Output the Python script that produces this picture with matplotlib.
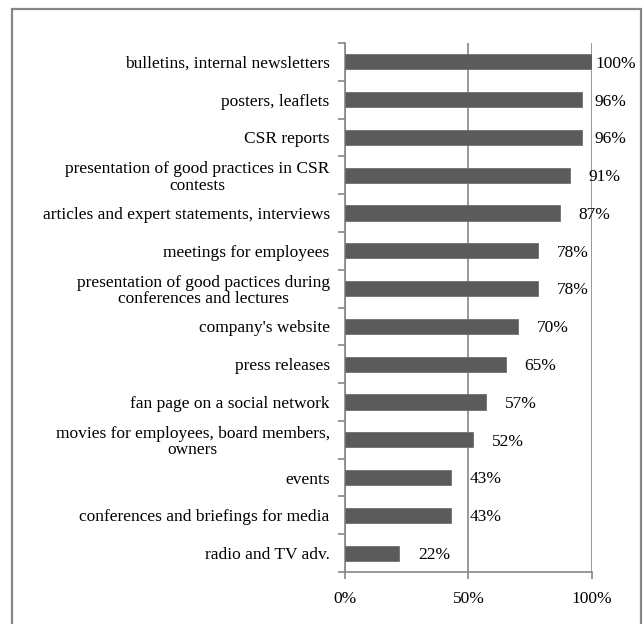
import matplotlib.pyplot as plt
import matplotlib.patches as mpatches
import numpy as np

plt.rcParams['font.family'] = ['Liberation Serif', 'DejaVu Serif']

# data (top to bottom as shown)
categories = [
    "bulletins, internal newsletters",
    "posters, leaflets",
    "CSR reports",
    "presentation of good practices in CSR\ncontests",
    "articles and expert statements, interviews",
    "meetings for employees",
    "presentation of good pactices during\nconferences and lectures",
    "company's website",
    "press releases",
    "fan page on a social network",
    "movies for employees, board members,\nowners",
    "events",
    "conferences and briefings for media",
    "radio and TV adv.",
]
values = [100, 96, 96, 91, 87, 78, 78, 70, 65, 57, 52, 43, 43, 22]
x_ticks = [0, 50, 100]
x_tick_labels = ["0%", "50%", "100%"]

grey = "#868686"
bar_color = "#5b5b5b"

fig = plt.figure(figsize=(6.43, 6.24), dpi=100)
ax = fig.add_axes([345 / 643, 1 - 572 / 624, 247 / 643, 529 / 624])

# outer frame (bottom edge falls outside the image)
fig.patches.append(mpatches.Rectangle((12 / 643, -10 / 624), 629 / 643, 624.5 / 624,
                                      transform=fig.transFigure, fill=False,
                                      edgecolor=grey, linewidth=1.6))

y = np.arange(len(categories))
ax.barh(y, values, height=0.4, color=bar_color, edgecolor="#707070",
        linewidth=0.6, zorder=3)

ax.set_xlim(0, 100)
ax.set_ylim(len(categories) - 0.5, -0.5)

ax.set_xticks(x_ticks)
ax.set_xticklabels(x_tick_labels, fontsize=12.5)
ax.set_yticks(y)
ax.set_yticklabels(categories, fontsize=12.5, multialignment="center",
                   linespacing=1.05)
ax.set_yticks(np.arange(len(categories) + 1) - 0.5, minor=True)

ax.tick_params(axis="y", which="major", length=0, pad=11)
ax.tick_params(axis="y", which="minor", length=5, color=grey, width=1.2)
ax.tick_params(axis="x", length=5, color=grey, width=1.2, pad=9)

for s in ["top", "right"]:
    ax.spines[s].set_visible(False)
for s in ["left", "bottom"]:
    ax.spines[s].set_color(grey)
    ax.spines[s].set_linewidth(1.2)

ax.xaxis.grid(True, color=grey, linewidth=1.2, zorder=1)
ax.set_axisbelow(True)

for yi, v in zip(y, values):
    ax.text(min(v + 7.6, 101.2), yi + 0.05, f"{v}%", va="center", ha="left",
            fontsize=12.5, clip_on=False)

fig.savefig("out.png", dpi=100)
